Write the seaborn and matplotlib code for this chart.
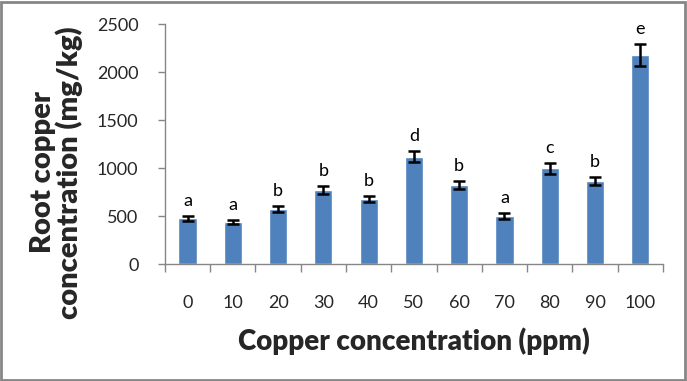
import numpy as np
import pandas as pd
import matplotlib
matplotlib.use('Agg')
import matplotlib.pyplot as plt
import seaborn as sns
from matplotlib.ticker import FixedLocator
from matplotlib.patches import Rectangle

# --- data ---
copper_ppm = ['0', '10', '20', '30', '40', '50', '60', '70', '80', '90', '100']
root_cu = [479, 440, 576, 774, 680, 1118, 826, 503, 999, 868, 2180]
root_cu_err = [25, 20, 32, 43, 36, 57, 43, 31, 56, 45, 115]
letters = ['a', 'a', 'b', 'b', 'b', 'd', 'b', 'a', 'c', 'b', 'e']

df = pd.DataFrame({'ppm': copper_ppm, 'cu': root_cu, 'err': root_cu_err, 'grp': letters})

sns.set_style('white')
plt.rcParams['font.family'] = ['Lato', 'DejaVu Sans']

fig = plt.figure(figsize=(6.87, 3.81), dpi=100)
ax = fig.add_axes([0.240, 0.306, 0.725, 0.631])

sns.barplot(data=df, x='ppm', y='cu', order=copper_ppm, color='#4F81BD',
            saturation=1, width=0.4, errorbar=None, ax=ax)
xpos = np.arange(len(df))
ax.errorbar(xpos, df['cu'], yerr=df['err'], fmt='none', ecolor='black',
            elinewidth=1.8, capsize=4, capthick=1.8)

# significance letters above the error bars
for i, row in df.iterrows():
    ax.annotate(row['grp'], (i, row['cu'] + row['err']), xytext=(0, 5),
                textcoords='offset points', ha='center', va='bottom',
                fontsize=13, color='black')

ax.set_xlim(-0.5, len(df) - 0.5)
ax.set_ylim(0, 2500)
ax.set_yticks([0, 500, 1000, 1500, 2000, 2500])

# Excel-style ticks: x ticks between categories
ax.xaxis.set_minor_locator(FixedLocator(np.arange(-0.5, len(df), 1.0)))
ax.tick_params(axis='x', which='major', length=0, pad=22, labelsize=13)
ax.tick_params(axis='x', which='minor', length=6, width=1, color='#868686', bottom=True)
ax.tick_params(axis='y', length=5, width=1, color='#868686', left=True, pad=14, labelsize=13)

for s in ['top', 'right']:
    ax.spines[s].set_visible(False)
for s in ['left', 'bottom']:
    ax.spines[s].set_color('#868686')
    ax.spines[s].set_linewidth(1)

ax.set_xlabel('Copper concentration (ppm)', fontsize=20, fontweight='heavy', labelpad=12)
ax.set_ylabel('Root copper\nconcentration (mg/kg)', fontsize=21, fontweight='heavy',
              linespacing=0.95)
ax.yaxis.set_label_coords(-0.165, 0.383)

# chart-area border
fig.patches.append(Rectangle((0.002, 0.003), 0.995, 0.993, transform=fig.transFigure,
                             fill=False, edgecolor='#868686', linewidth=2))

fig.savefig('out.png', dpi=100)
